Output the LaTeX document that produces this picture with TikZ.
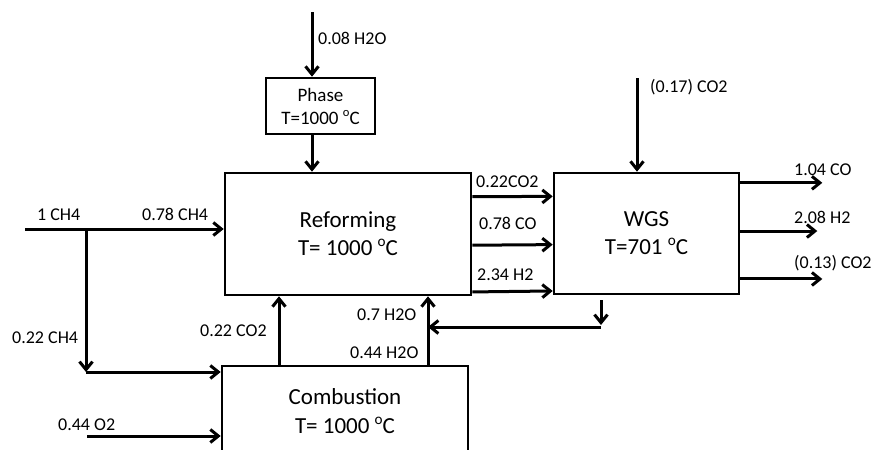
\documentclass[tikz,border=0pt]{standalone}
\usepackage{fontspec}
\setmainfont{Carlito}
\usetikzlibrary{arrows.meta,positioning,calc}
\newcommand{\degc}{\raisebox{0.85ex}{\fontsize{0.66em}{1em}\selectfont o}C}

\begin{document}
\begin{tikzpicture}[x=1pt,y=-1pt,
  unit/.style={draw,line width=2.6pt,align=center,inner sep=0pt,font=\fontsize{23}{28}\selectfont},
  lbl/.style={anchor=west,inner sep=0pt,font=\fontsize{18}{20}\selectfont},
  flow/.style={line width=3pt,-{Straight Barb[length=8pt,width=13pt]}}]
\useasboundingbox (0,0) rectangle (876,450);
\clip (0,0) rectangle (876,450);
% units
\node[unit,minimum width=246,minimum height=122] (ref) at (348,234) {Reforming\\T= 1000 \degc};
\node[unit,minimum width=185,minimum height=121] (wgs) at (646.5,233.5) {WGS\\T=701 \degc};
\node[unit,minimum width=109,minimum height=56,font=\fontsize{19}{23}\selectfont] (phase) at (320.5,106) {Phase\\T=1000 \degc};
\node[unit,minimum width=246,minimum height=90,font=\fontsize{23}{29}\selectfont] (comb) at (345,411) {Combustion\\T= 1000 \degc};
% feed points
\coordinate (h2oin) at (312,12);
\coordinate (ch4in) at (25,229);
\coordinate (split) at (86,229);
\coordinate (corner) at (86,372);
\coordinate (o2in) at (87,436);
\coordinate (co2ret) at (279,0);
\coordinate (h2oret) at (428,0);
\coordinate (rectop) at (601,300);
\coordinate (rec) at (601,327);
\coordinate (co2in) at (637,78);
% streams
\draw[flow] (h2oin) -- (h2oin |- phase.north);
\draw[flow] (phase.south -| h2oin) -- (ref.north -| h2oin);
\draw[flow] (ch4in) -- (ch4in -| ref.west);
\draw[flow] (split) -- (corner);
\draw[flow] (corner) -- (corner -| comb.west);
\draw[flow] (o2in) -- (o2in -| comb.west);
\draw[flow] (comb.north -| co2ret) -- (ref.south -| co2ret);
\draw[flow] (comb.north -| h2oret) -- (ref.south -| h2oret);
\draw[flow] (rectop) -- ([yshift=2pt]rec);
\draw[flow] (rec) -- (rec -| h2oret);
\draw[flow] (co2in) -- (co2in |- wgs.north);
\foreach \f in {0.2,0.59,0.965}
  \draw[flow] ($(ref.north east)!\f!(ref.south east)$) -- ($(wgs.north west)!\f!(wgs.south west)$);
\foreach \f/\len in {0.09/82,0.48/77,0.868/82}
  \draw[flow] ($(wgs.north east)!\f!(wgs.south east)$) -- ++(\len,0);
% labels
\node[lbl] (l1) at (318,38) {0.08 H2O};
\node[lbl] (l2) at (37,215) {1 CH4};
\node[lbl] (l3) at (142,214) {0.78 CH4};
\node[lbl] (l4) at (12,338) {0.22 CH4};
\node[lbl] (l5) at (200,331) {0.22 CO2};
\node[lbl] (l6) at (58,425) {0.44 O2};
\node[lbl] (l7) at (357,315) {0.7 H2O};
\node[lbl] (l8) at (350,353) {0.44 H2O};
\node[lbl] (l9) at (476,182) {0.22CO2};
\node[lbl] (l10) at (479,223) {0.78 CO};
\node[lbl] (l11) at (477,275) {2.34 H2};
\node[lbl] (l12) at (650,87) {(0.17) CO2};
\node[lbl] (l13) at (794,170) {1.04 CO};
\node[lbl] (l14) at (794,217) {2.08 H2};
\node[lbl] (l15) at (794,263) {(0.13) CO2};
\end{tikzpicture}
\end{document}
